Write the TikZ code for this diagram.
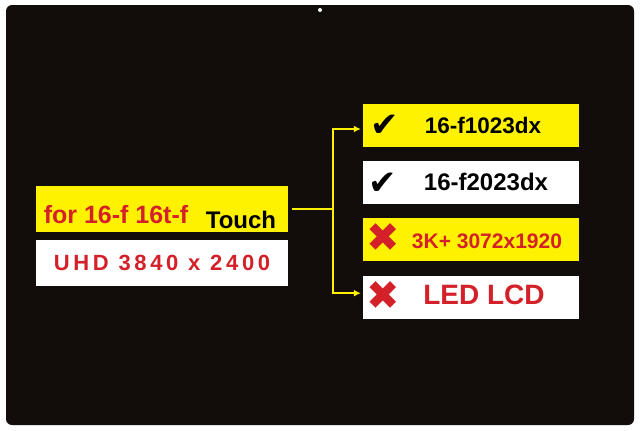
\documentclass[tikz,border=0pt]{standalone}
\usepackage{fontspec}
\setmainfont{Liberation Sans}
\newfontfamily\symfont{DejaVu Sans}
\usetikzlibrary{positioning,arrows.meta}
\definecolor{panel}{HTML}{120C0A}
\definecolor{tagyellow}{HTML}{FFF200}
\definecolor{tagred}{HTML}{D42028}
\begin{document}
\begin{tikzpicture}[x=1pt,y=-1pt,>={Latex[length=7pt,width=7pt]}]
\tikzset{
    box/.style={fill=#1,minimum width=216pt,minimum height=43pt,inner sep=0pt},
    leftbox/.style={fill=#1,minimum width=252pt,minimum height=46pt,inner sep=0pt},
    link/.style={draw=tagyellow,line width=1.6pt},
    tick/.style={font=\symfont\fontsize{34}{34}\selectfont},
    cross/.style={font=\symfont\fontsize{40}{40}\selectfont,text=tagred},
  }
\useasboundingbox (0,0) rectangle (640,431);
\fill[white] (0,0) rectangle (640,431);
\fill[panel,rounded corners=6pt] (6,5) rectangle (634,425);
\fill[white] (320,10) circle (2pt);
% left tags
\node (model) [leftbox=tagyellow] at (162,209) {};
\node at (116,215) {\fontsize{25}{25}\bfseries\color{tagred}for 16-f 16t-f};
\node at (241,220) {\fontsize{24}{24}\bfseries Touch};
\node (res) [leftbox=white, below=8pt of model] {\fontsize{22}{22}\bfseries\color{tagred}U\,H\,D\, 3\,8\,4\,0\, x\, 2\,4\,0\,0};
% right tags
\node (fit1) [box=tagyellow] at (471,125) {};
\node (fit2) [box=white, below=14pt of fit1] {};
\node (bad1) [box=tagyellow, below=14pt of fit2] {};
\node (bad2) [box=white, below=14pt of bad1] {};
\node[tick] at ([xshift=-86pt,yshift=-1pt]fit1) {✔};
\node[tick] at ([xshift=-88pt,yshift=-1pt]fit2) {✔};
\node[cross] at ([xshift=-88pt,yshift=2pt]bad1) {✖};
\node[cross] at ([xshift=-88pt,yshift=2pt]bad2) {✖};
\node at ([xshift=12pt]fit1) {\fontsize{22.5}{22.5}\bfseries 16-f1023dx};
\node at ([xshift=15pt]fit2) {\fontsize{24}{24}\bfseries 16-f2023dx};
\node at ([xshift=16pt,yshift=-1pt]bad1) {\fontsize{21}{21}\bfseries\color{tagred}3K+ 3072x1920};
\node at ([xshift=13pt,yshift=2pt]bad2) {\fontsize{28}{28}\bfseries\color{tagred}LED LCD};
% connectors
\coordinate (hub) at (333,209);
\draw[link] ([xshift=4pt]model.east) -- (hub);
\draw[link,->] (hub) |- ([xshift=-2pt,yshift=-4pt]fit1.west);
\draw[link,->] (hub) |- ([xshift=-2pt,yshift=4pt]bad2.west);
\end{tikzpicture}
\end{document}
